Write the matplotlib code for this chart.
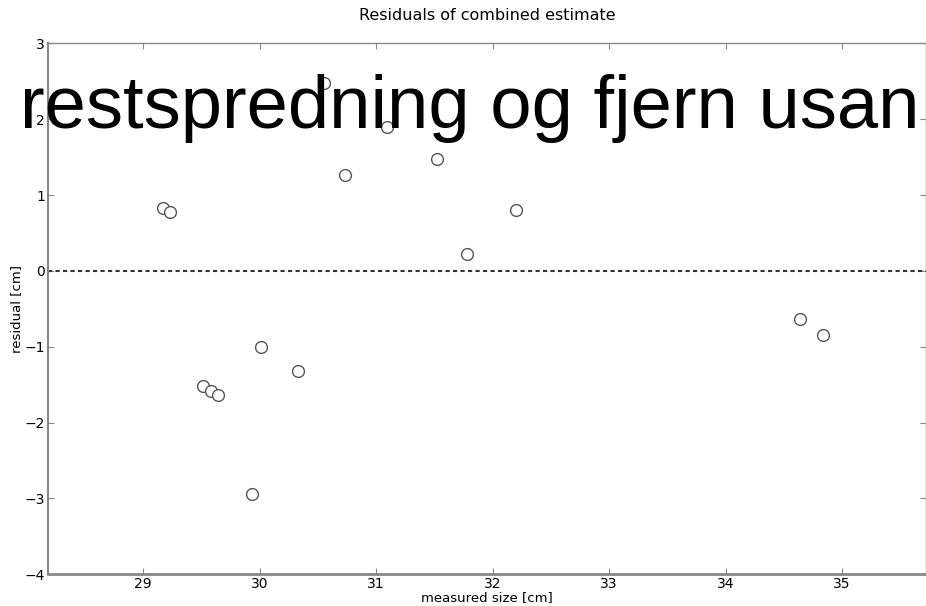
import matplotlib
matplotlib.use("Agg")
import matplotlib.pyplot as plt

measured = [29.171, 29.226, 30.549, 30.735, 31.095, 31.524, 31.777, 32.203,
            29.514, 29.578, 29.640, 30.009, 30.329, 29.934, 34.637, 34.840]
residual = [0.825, 0.776, 2.473, 1.264, 1.900, 1.479, 0.223, 0.799,
            -1.513, -1.580, -1.636, -1.007, -1.324, -2.937, -0.638, -0.845]
xticks = [29, 30, 31, 32, 33, 34, 35]
yticks = [-4, -3, -2, -1, 0, 1, 2, 3]

fig = plt.figure(figsize=(9.26, 6.06), dpi=100)
ax = fig.add_axes([0.0515, 0.0523, 0.9485, 0.8762])
ax.plot(measured, residual, 'o', mfc='white', mec='#555555', mew=1.0, ms=8.5, zorder=3)
ax.axhline(0, color='#333333', ls='--', lw=1.5, dashes=(2, 1.6), zorder=2)
ax.set_xlim(28.18, 35.72)
ax.set_ylim(-4, 3)
ax.set_xticks(xticks)
ax.set_yticks(yticks)
ax.set_yticklabels(['\u22124', '\u22123', '\u22122', '\u22121', '0', '1', '2', '3'])
ax.tick_params(direction='in', top=True, right=True, length=4, width=0.8,
               color='#888888', labelsize=10, pad=2)
for s in ax.spines.values():
    s.set_color('#888888')
    s.set_linewidth(1.0)
ax.spines['bottom'].set_linewidth(2.0)
ax.spines['left'].set_linewidth(1.5)
ax.set_xlabel('measured size [cm]', fontsize=9.5, labelpad=0)
ax.set_ylabel('residual [cm]', fontsize=9.5, labelpad=1)
ax.set_title('Residuals of combined estimate', fontsize=11.5, pad=16.5)

fig.text(20 / 926, 1 - 128 / 606, 'restspredning og fjern usan', fontsize=53.5,
         family='Liberation Sans', color='black', va='baseline', ha='left', zorder=10)

fig.savefig('out.png', dpi=100)
